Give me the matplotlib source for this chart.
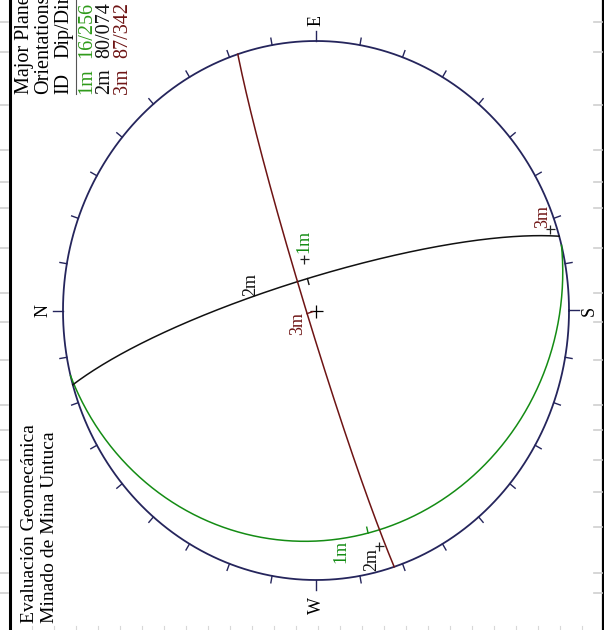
import numpy as np
import matplotlib.pyplot as plt

plt.rcParams['font.family'] = ['Liberation Serif', 'DejaVu Serif']

# ===========================
# Datos: planos principales (Dip / Dip Direction)
# ===========================
plane_ids = ['1m', '2m', '3m']
dips = [16, 80, 87]
dip_dirs = [256, 74, 342]
plane_colors = ['#148c14', '#111111', '#6e1414']
legend_colors = ['#2f9a1a', '#111111', '#6e1414']

legend_title = ['Major Planes', 'Orientations']
legend_head = ['ID', 'Dip/Direction']
proj_title = ['Evaluación Geomecánica', 'Minado de Mina Untuca']
cardinals = ['N', 'E', 'S', 'W']
cardinal_az = [0, 90, 180, 270]
tick_az = np.arange(0, 360, 10)

W, H = 604, 630
navy = '#25255c'


def px(v):
    # pixeles -> puntos
    return v * 72 / 100


# ===========================
# Proyeccion de igual area (Schmidt), hemisferio inferior
# la pagina esta girada: el norte queda a la izquierda
# ===========================
def proyectar(trend, plunge):
    r = np.sqrt(2) * np.sin(np.radians(90 - np.asarray(plunge)) / 2)
    e = r * np.sin(np.radians(trend))
    n = r * np.cos(np.radians(trend))
    return -n, e


def circulo_mayor(dip, dd, t):
    st = np.radians(dd - 90)
    a, b = np.radians(dd), np.radians(dip)
    s = np.array([np.sin(st), np.cos(st), 0.0])
    d = np.array([np.sin(a) * np.cos(b), np.cos(a) * np.cos(b), np.sin(b)])
    tt = np.radians(np.atleast_1d(t))
    v = np.outer(np.cos(tt), s) + np.outer(np.sin(tt), d)
    plunge = np.degrees(np.arcsin(np.clip(v[:, 2], -1, 1)))
    trend = np.degrees(np.arctan2(v[:, 0], v[:, 1]))
    return proyectar(trend, plunge)


fig = plt.figure(figsize=(W / 100, H / 100), dpi=100)

# capa de pagina en pixeles
page = fig.add_axes([0, 0, 1, 1])
page.set_xlim(0, W)
page.set_ylim(H, 0)
page.axis('off')

# borde de pagina y marcas grises
page.plot([9.5, 9.5], [0, H], color='black', lw=2.2)
page.plot([603, 603], [0, H], color='black', lw=1.6)
marks_left = [22, 52, 105, 150, 182, 208, 248, 293, 322, 360, 405, 430, 460, 492, 527, 573, 593]
for y in marks_left:
    page.plot([0, 8], [y, y], color='#cfcfcf', lw=1.2)
    page.plot([594, 602], [y, y], color='#cfcfcf', lw=1.2)
for x in np.arange(32, 600, 22):
    page.plot([x, x], [626, 629], color='#d8d8d8', lw=0.8)

# ===========================
# Estereograma
# ===========================
cx, cy, rx, ry = 316, 310.5, 253, 269.5
ax = fig.add_axes([(cx - rx) / W, (H - cy - ry) / H, 2 * rx / W, 2 * ry / H])
ax.set_xlim(-1, 1)
ax.set_ylim(-1, 1)
ax.axis('off')

ang = np.linspace(0, 2 * np.pi, 721)
ax.plot(np.cos(ang), np.sin(ang), color=navy, lw=1.3, clip_on=False)

for az in tick_az:
    x0, y0 = proyectar(az, 0)
    L = 10 if az in cardinal_az else 7
    ax.plot([x0, x0 * (1 + L / rx)], [y0, y0 * (1 + L / ry)], color=navy, lw=1.0, clip_on=False)

for lab, az in zip(cardinals, cardinal_az):
    x0, y0 = proyectar(az, 0)
    dist = 25 if lab == 'W' else 20
    ax.text(x0 * (1 + dist / rx), y0 * (1 + dist / ry), lab, rotation=90,
            ha='center', va='center', fontsize=13, color='black')

# cruz central
ax.plot([0], [0], marker='+', ms=px(13), mew=0.9, color='black')

# circulos mayores
t = np.linspace(0, 180, 361)
gc_label_t = [97, 71, 87]
gc_label_off = [(0, -13), (0, 13), (-12, 0)]
pole_label_off = [(0, 18), (-8, -14), (-8, 13)]
for i, pid in enumerate(plane_ids):
    gx, gy = circulo_mayor(dips[i], dip_dirs[i], t)
    ax.plot(gx, gy, color=plane_colors[i], lw=1.1)

    # marca en la direccion de buzamiento
    mx, my = circulo_mayor(dips[i], dip_dirs[i], 90)
    vx, vy = -mx[0] * rx, -my[0] * ry
    nrm = np.hypot(vx, vy)
    ax.plot([mx[0], mx[0] + 6 * vx / nrm / rx], [my[0], my[0] + 6 * vy / nrm / ry],
            color=plane_colors[i], lw=1.0)

    # etiqueta sobre el circulo
    lx, ly = circulo_mayor(dips[i], dip_dirs[i], gc_label_t[i])
    ax.annotate(pid, (lx[0], ly[0]), xytext=(px(gc_label_off[i][0]), px(gc_label_off[i][1])),
                textcoords='offset points', rotation=90, ha='center', va='center',
                fontsize=13, color=plane_colors[i])

    # polo
    ppx, ppy = proyectar(dip_dirs[i] + 180, 90 - dips[i])
    ax.plot([ppx], [ppy], marker='+', ms=px(9), mew=0.9, color='#222222')
    ax.annotate(pid, (ppx, ppy), xytext=(px(pole_label_off[i][0]), px(pole_label_off[i][1])),
                textcoords='offset points', rotation=90, ha='center', va='center',
                fontsize=13, color=plane_colors[i])

# ===========================
# Textos de la pagina
# ===========================
for k, s in enumerate(proj_title):
    page.text(29.5 + 20 * k, 623, s, rotation=90, ha='center', va='bottom',
              fontsize=14, color='black')

# leyenda (cortada por el borde superior, como en la pagina original)
for k, s in enumerate(legend_title):
    page.text(24 + 20 * k, 94, s, rotation=90, ha='center', va='bottom', fontsize=14.5)
page.text(64, 94, legend_head[0], rotation=90, ha='center', va='bottom', fontsize=14.5)
page.text(64, 58, legend_head[1], rotation=90, ha='center', va='bottom', fontsize=14.5)
page.plot([76, 76], [94, 0], color='#555555', lw=0.8)
for i, pid in enumerate(plane_ids):
    xc = 87 + 18 * i
    page.text(xc, 94, pid, rotation=90, ha='center', va='bottom', fontsize=14.5,
              color=legend_colors[i])
    page.text(xc, 58, '%d/%03d' % (dips[i], dip_dirs[i]), rotation=90, ha='center',
              va='bottom', fontsize=14.5, color=legend_colors[i])

fig.savefig('out.png', dpi=100)
